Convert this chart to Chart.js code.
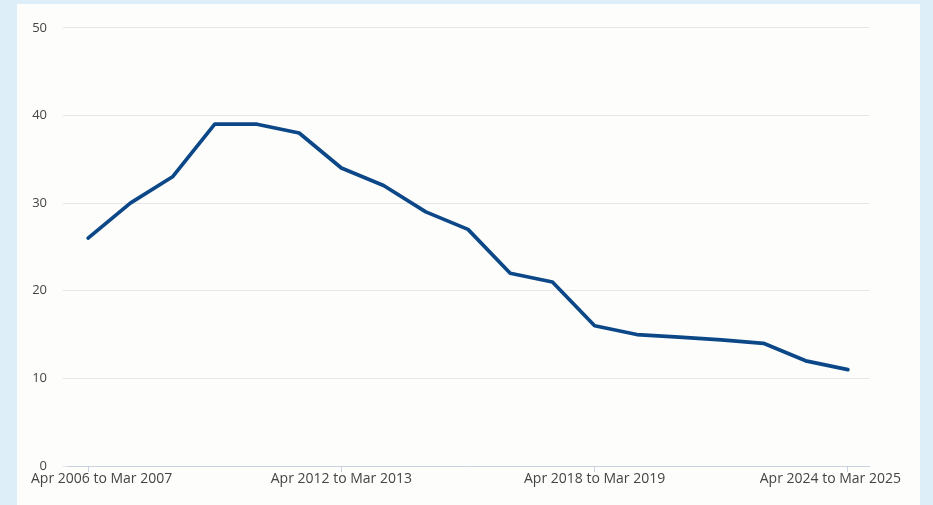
<!DOCTYPE html>
<html>
<head>
<meta charset="utf-8">
<script src="https://cdn.jsdelivr.net/npm/chart.js@4"></script>
<style>
html,body{margin:0;padding:0;width:933px;height:505px;background:#deeef8;overflow:hidden;}
#panel{position:absolute;left:17px;top:4px;width:903px;height:501px;background:#fdfdfc;}
canvas{display:block;}
</style>
</head>
<body>
<div id="panel"><canvas id="c" width="903" height="501"></canvas></div>
<script>
const categories = [
  "Apr 2006 to Mar 2007","Apr 2007 to Mar 2008","Apr 2008 to Mar 2009","Apr 2009 to Mar 2010",
  "Apr 2010 to Mar 2011","Apr 2011 to Mar 2012","Apr 2012 to Mar 2013","Apr 2013 to Mar 2014",
  "Apr 2014 to Mar 2015","Apr 2015 to Mar 2016","Apr 2016 to Mar 2017","Apr 2017 to Mar 2018",
  "Apr 2018 to Mar 2019","Apr 2019 to Mar 2020","Apr 2020 to Mar 2021","Apr 2021 to Mar 2022",
  "Apr 2022 to Mar 2023","Apr 2023 to Mar 2024","Apr 2024 to Mar 2025"
];
const values = [26, 30, 33, 39, 39, 38, 34, 32, 29, 27, 22, 21, 16, 15, 14.7, 14.4, 14, 12, 11];
const yTicks = [0, 10, 20, 30, 40, 50];
const labelEvery = 6;

const textColor = '#444444';
const fontFamily = "'Open Sans', sans-serif";

// keep first/last x labels inside the panel (as in the reference)
const clampLabels = {
  id: 'clampLabels',
  beforeDraw(chart) {
    const s = chart.scales.x;
    const items = s.getLabelItems();
    const ctx = chart.ctx;
    const minX = 14, maxX = chart.width - 19;
    items.forEach(it => {
      if (!it.label) return;
      ctx.save();
      ctx.font = it.font.string;
      const w = ctx.measureText(it.label).width;
      ctx.restore();
      const t = it.options.translation;
      const left = t[0] - w / 2;
      if (left < minX) t[0] += minX - left;
      const right = t[0] + w / 2;
      if (right > maxX) t[0] -= right - maxX;
    });
  }
};

new Chart(document.getElementById('c'), {
  type: 'line',
  data: {
    labels: categories,
    datasets: [{
      data: values,
      borderColor: '#0c4888',
      borderWidth: 3.7,
      borderJoinStyle: 'round',
      borderCapStyle: 'round',
      pointRadius: 0,
      tension: 0,
      fill: false
    }]
  },
  plugins: [clampLabels],
  options: {
    responsive: false,
    animation: false,
    layout: {padding: {top: 23, right: 51, bottom: 0, left: 0}},
    plugins: {legend: {display: false}, tooltip: {enabled: false}},
    scales: {
      x: {
        offset: true,
        border: {display: true, color: '#c9d3de', width: 1},
        grid: {
          drawOnChartArea: false,
          drawTicks: true,
          tickLength: 6,
          color: (ctx) => (ctx.index % labelEvery === 0 ? '#c9d3de' : 'rgba(0,0,0,0)')
        },
        ticks: {
          autoSkip: false,
          maxRotation: 0,
          padding: -1,
          color: textColor,
          font: {family: fontFamily, size: 14},
          callback: function(v, i) { return i % labelEvery === 0 ? categories[i] : ''; }
        },
        afterFit: (s) => { s.height = 39; }
      },
      y: {
        min: 0,
        max: 50,
        border: {display: false},
        grid: {color: '#e6e6e6', drawTicks: true, tickLength: 4, lineWidth: 1},
        afterBuildTicks: (s) => { s.ticks = yTicks.map(v => ({value: v})); },
        ticks: {
          padding: 16,
          color: textColor,
          font: {family: fontFamily, size: 13}
        },
        afterFit: (s) => { s.width = 50; }
      }
    }
  }
});
</script>
</body>
</html>
